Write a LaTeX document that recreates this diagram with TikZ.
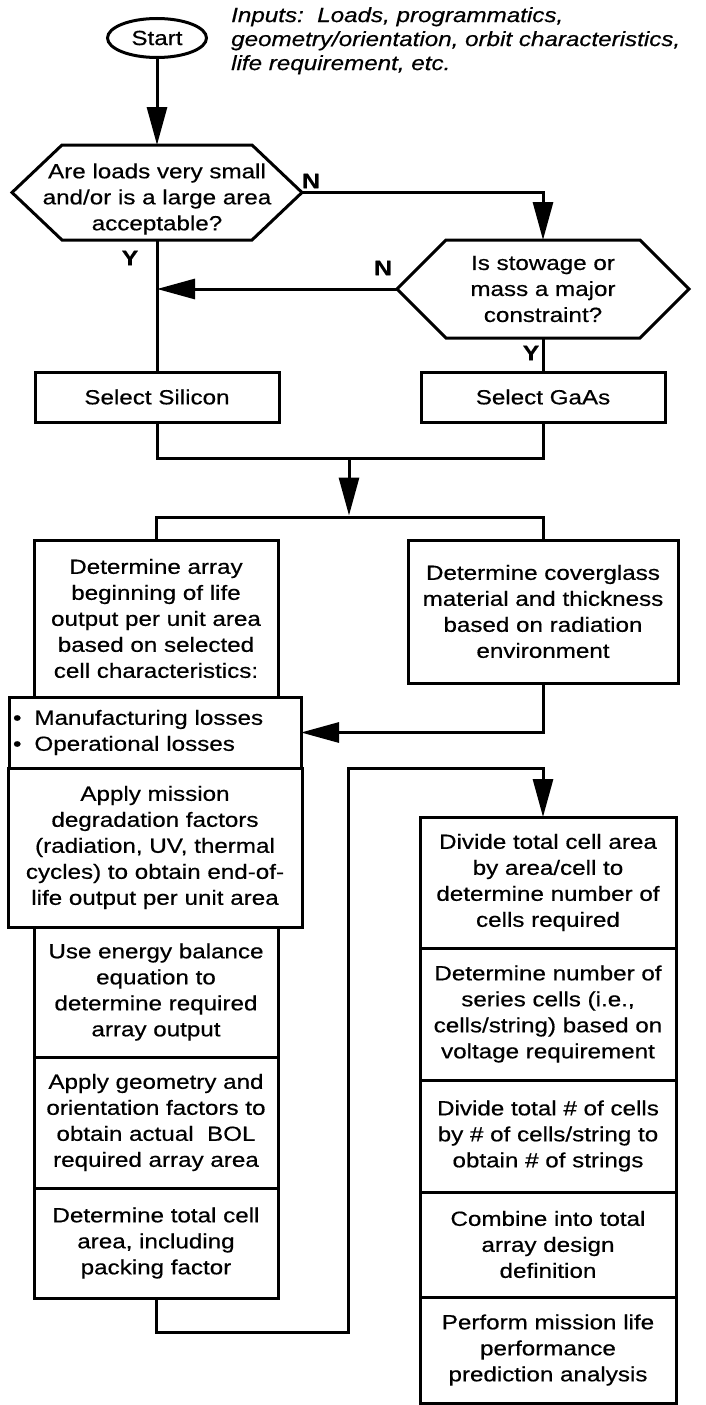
\documentclass[tikz,border=0pt]{standalone}
\usepackage{fontspec}
\setmainfont{Liberation Sans}[FakeStretch=1.18,FakeBold=0.5]
\usetikzlibrary{arrows.meta,shapes.geometric}
\newcommand\boxfont{\fontsize{20.5}{26}\selectfont}
\newcommand\inpfont{\fontsize{20.5}{24}\selectfont\itshape}
\newcommand\ynfont{\fontsize{21}{21}\selectfont\bfseries}
\begin{document}
\begin{tikzpicture}[x=1pt,y=-1pt,
  box/.style={draw, line width=3pt, rectangle, inner sep=0pt, outer sep=0pt, align=center, font=\boxfont, anchor=north},
  hexnode/.style={rectangle, inner sep=0pt, outer sep=0pt},
  conn/.style={line width=3pt},
  arr/.style={line width=3pt, -{Triangle[length=38pt,width=20pt]}},
  yn/.style={font=\ynfont, inner sep=0pt},
  txt/.style={font=\boxfont, align=center, inner sep=0pt}]
\fill[white] (0,0) rectangle (706,1405);
\useasboundingbox (0,0) rectangle (706,1405);

% start and inputs
\node[draw, ellipse, line width=3pt, minimum width=99pt, minimum height=39pt, inner sep=0pt, outer sep=0pt, font=\boxfont] (start) at (157,38) {Start};
\node[anchor=north west, align=left, font=\inpfont, inner sep=0pt] (inp) at (231,7) {Inputs:\ \ Loads, programmatics,\\geometry/orientation, orbit characteristics,\\life requirement, etc.};

% decision 1
\node[hexnode, minimum width=290pt, minimum height=95pt] (d1) at (157,192.5) {};
\node[txt] (d1t) at (157,199) {Are loads very small\\and/or is a large area\\acceptable?};
\draw[conn, line join=miter] (d1.west) -- ([xshift=50pt]d1.north west) -- ([xshift=-50pt]d1.north east) -- (d1.east) -- ([xshift=-50pt]d1.south east) -- ([xshift=50pt]d1.south west) -- cycle;

% decision 2
\node[hexnode, minimum width=292pt, minimum height=98pt] (d2) at (543,289) {};
\node[txt] (d2t) at (543,289) {Is stowage or\\mass a major\\constraint?};
\draw[conn, line join=miter] (d2.west) -- ([xshift=49pt]d2.north west) -- ([xshift=-49pt]d2.north east) -- (d2.east) -- ([xshift=-49pt]d2.south east) -- ([xshift=49pt]d2.south west) -- cycle;

% labels
\node[yn] (n1) at (311,181) {N};
\node[yn] (n2) at (383,268) {N};
\node[yn] (y1) at (130,258) {Y};
\node[yn] (y2) at (531,353) {Y};

% select boxes
\node[box, minimum width=244pt, minimum height=50pt] (sil) at (157,372) {Select Silicon};
\node[box, minimum width=244pt, minimum height=50pt] (gaas) at (543,372) {Select GaAs};

% left column
\node[box, minimum width=244pt, minimum height=157pt] (boxA) at (156,540) {Determine array\\beginning of life\\output per unit area\\based on selected\\cell characteristics:};
\node[box, minimum width=292pt, minimum height=71pt, align=left, text width=284pt, inner xsep=4pt] (man) at (155,697) {\textbullet\hspace{13pt}Manufacturing losses\\\textbullet\hspace{13pt}Operational losses};
\node[box, minimum width=294pt, minimum height=159pt] (mission) at (155,768) {Apply mission\\degradation factors\\(radiation, UV, thermal\\cycles) to obtain end-of-\\life output per unit area};
\node[box, minimum width=244pt, minimum height=130pt] (energy) at (156,927) {Use energy balance\\equation to\\determine required\\array output};
\node[box, minimum width=244pt, minimum height=131pt] (geom) at (156,1057) {Apply geometry and\\orientation factors to\\obtain actual\ \ BOL\\required array area};
\node[box, minimum width=244pt, minimum height=110pt] (total) at (156,1188) {Determine total cell\\area, including\\packing factor};

% right column
\node[box, minimum width=270pt, minimum height=143pt] (boxB) at (543,540) {Determine coverglass\\material and thickness\\based on radiation\\environment};
\node[box, minimum width=256pt, minimum height=131pt] (div1) at (548,817) {Divide total cell area\\by area/cell to\\determine number of\\cells required};
\node[box, minimum width=256pt, minimum height=132pt] (div2) at (548,948) {Determine number of\\series cells (i.e.,\\cells/string) based on\\voltage requirement};
\node[box, minimum width=256pt, minimum height=112pt] (div3) at (548,1080) {Divide total \# of cells\\by \# of cells/string to\\obtain \# of strings};
\node[box, minimum width=256pt, minimum height=105pt] (comb) at (548,1192) {Combine into total\\array design\\definition};
\node[box, minimum width=256pt, minimum height=106pt] (perf) at (548,1297) {Perform mission life\\performance\\prediction analysis};

% connectors
\draw[arr] (start) -- (d1.north);
\draw[arr] (d1.east) -| (d2.north);
\draw[arr] (d2.west) -- (d2.west -| d1.south);
\draw[conn] (d1.south) -- (sil.north);
\draw[conn] (d2.south) -- (gaas.north);
\coordinate (m) at (349,458);
\coordinate (s) at (349,517);
\draw[conn] (sil.south) |- (m) -| (gaas.south);
\draw[arr] (m) -- ([yshift=1.5pt]s);
\draw[conn] (boxA.north) |- (s) -| (boxB.north);
\draw[arr] (boxB.south) |- (man.east);
\coordinate (l1) at (348,1332);
\coordinate (l2) at (348,768);
\coordinate (l3) at (543,768);
\draw[arr] (total.south) |- (l1) -- (l2) -- (l3) -- (l3 |- div1.north);
\end{tikzpicture}
\end{document}
